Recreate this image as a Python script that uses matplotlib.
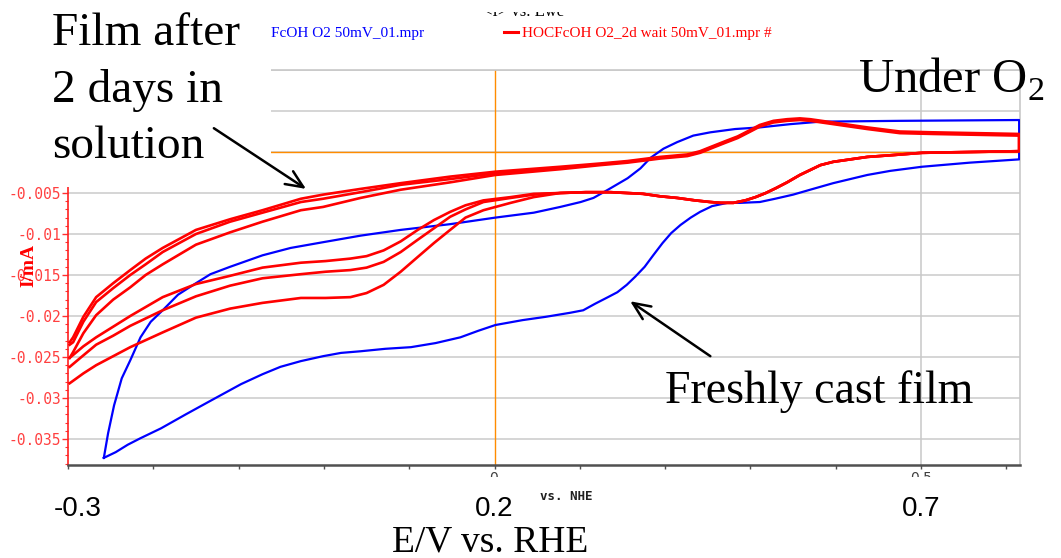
import matplotlib
matplotlib.use("Agg")
import matplotlib.pyplot as plt
from matplotlib.lines import Line2D
from matplotlib.patches import Rectangle, FancyArrowPatch
from matplotlib.ticker import FixedLocator, MultipleLocator, FuncFormatter
from matplotlib.transforms import Bbox, TransformedBbox, ScaledTranslation

plt.rcParams["font.family"] = "Liberation Serif"
plt.rcParams["mathtext.fontset"] = "custom"
plt.rcParams["mathtext.rm"] = "Liberation Serif"
plt.rcParams["axes.unicode_minus"] = False

W, H = 1061, 558

# ---- values read off the CV (E in V vs RHE, I in mA) ----
# freshly cast film (blue): anodic sweep from the left vertex, then back
blue_fwd_E = [-0.258, -0.253, -0.246, -0.237, -0.227, -0.215, -0.203, -0.189, -0.171, -0.150,
              -0.133, -0.110, -0.072, -0.039, -0.001, 0.043, 0.090, 0.148, 0.201, 0.246,
              0.277, 0.301, 0.316, 0.333, 0.356, 0.371, 0.383, 0.398, 0.414, 0.433,
              0.453, 0.482, 0.511, 0.547, 0.582, 0.675, 0.815]
blue_fwd_I = [-0.0373, -0.0343, -0.0309, -0.0276, -0.0254, -0.0226, -0.0207, -0.0193, -0.0174, -0.0160,
              -0.0149, -0.0140, -0.0126, -0.0117, -0.0110, -0.0102, -0.0095, -0.0088, -0.0080, -0.0074,
              -0.0067, -0.0061, -0.0056, -0.0046, -0.0032, -0.0020, -0.0007, 0.0004, 0.0012, 0.0020,
              0.0024, 0.0028, 0.0030, 0.0034, 0.0037, 0.0038, 0.0039]
blue_rev_E = [0.815, 0.757, 0.701, 0.664, 0.637, 0.597, 0.570, 0.550, 0.529, 0.511,
              0.488, 0.473, 0.455, 0.441, 0.430, 0.418, 0.407, 0.397, 0.386, 0.376,
              0.365, 0.355, 0.344, 0.333, 0.318, 0.304, 0.289, 0.260, 0.233, 0.201,
              0.181, 0.160, 0.131, 0.102, 0.072, 0.043, 0.020, -0.001, -0.027, -0.051,
              -0.072, -0.097, -0.134, -0.162, -0.191, -0.215, -0.230, -0.244, -0.258]
blue_rev_I = [-0.0009, -0.0013, -0.0018, -0.0023, -0.0028, -0.0038, -0.0046, -0.0052, -0.0057, -0.0061,
              -0.0062, -0.0062, -0.0066, -0.0073, -0.0080, -0.0089, -0.0099, -0.0111, -0.0126, -0.0140,
              -0.0152, -0.0162, -0.0171, -0.0177, -0.0185, -0.0193, -0.0196, -0.0201, -0.0205, -0.0211,
              -0.0218, -0.0226, -0.0233, -0.0238, -0.0240, -0.0243, -0.0245, -0.0249, -0.0255, -0.0262,
              -0.0271, -0.0283, -0.0304, -0.0320, -0.0337, -0.0349, -0.0357, -0.0366, -0.0373]

# film after 2 days (red): three cycles, anodic sweeps
red_fwd_E = [-0.298, -0.294, -0.282, -0.267, -0.247, -0.227, -0.209, -0.189, -0.150, -0.110,
             -0.072, -0.027, -0.001, 0.043, 0.090, 0.148, 0.201, 0.277, 0.324, 0.356,
             0.394, 0.426, 0.441, 0.453, 0.470, 0.485, 0.500, 0.511, 0.527, 0.543,
             0.558, 0.570, 0.597, 0.637, 0.675, 0.714, 0.815]
red_fwd_I1 = [-0.0232, -0.0226, -0.0201, -0.0177, -0.0160, -0.0144, -0.0130, -0.0117, -0.0095, -0.0082,
              -0.0071, -0.0057, -0.0052, -0.0045, -0.0038, -0.0030, -0.0024, -0.0018, -0.0014, -0.0011,
              -0.0006, -0.0003, 0.0001, 0.0006, 0.0013, 0.0019, 0.0027, 0.0033, 0.0038, 0.0040,
              0.0041, 0.0040, 0.0036, 0.0030, 0.0025, 0.0024, 0.0022]
red_fwd_I2 = [-0.0235, -0.0232, -0.0207, -0.0183, -0.0166, -0.0150, -0.0137, -0.0122, -0.0100, -0.0085,
              -0.0074, -0.0061, -0.0057, -0.0049, -0.0040, -0.0033, -0.0026, -0.0020, -0.0015, -0.0012,
              -0.0007, -0.0004, 0.0000, 0.0005, 0.0012, 0.0018, 0.0026, 0.0032, 0.0037, 0.0039,
              0.0040, 0.0039, 0.0035, 0.0029, 0.0024, 0.0023, 0.0021]
red_fwd_I3 = [-0.0251, -0.0244, -0.0221, -0.0199, -0.0180, -0.0165, -0.0150, -0.0137, -0.0113, -0.0098,
              -0.0085, -0.0071, -0.0067, -0.0056, -0.0046, -0.0037, -0.0028, -0.0021, -0.0016, -0.0013,
              -0.0008, -0.0005, -0.0001, 0.0004, 0.0011, 0.0017, 0.0025, 0.0031, 0.0036, 0.0038,
              0.0039, 0.0038, 0.0034, 0.0028, 0.0023, 0.0022, 0.0020]
# cathodic sweeps: shared right part, then the three split apart
red_rev_tail_E = [0.815, 0.757, 0.701, 0.664, 0.637, 0.617, 0.597, 0.582, 0.570, 0.558,
                  0.543, 0.530, 0.518, 0.506, 0.494, 0.480, 0.465, 0.453, 0.435, 0.414,
                  0.394, 0.374, 0.336, 0.307, 0.277]
red_rev_tail_I = [0.0001, 0.0000, -0.0001, -0.0004, -0.0006, -0.0009, -0.0012, -0.0016, -0.0022, -0.0028,
                  -0.0037, -0.0044, -0.0050, -0.0055, -0.0059, -0.0062, -0.0062, -0.0061, -0.0059, -0.0056,
                  -0.0054, -0.0051, -0.0049, -0.0049, -0.0050]
red_rev_E = [0.246, 0.219, 0.187, 0.166, 0.148, 0.129, 0.110, 0.090, 0.070, 0.050,
             0.031, 0.002, -0.027, -0.072, -0.110, -0.150, -0.189, -0.227, -0.247, -0.267,
             -0.282, -0.298]
red_rev_I1 = [-0.0051, -0.0055, -0.0059, -0.0065, -0.0073, -0.0083, -0.0095, -0.0109, -0.0120, -0.0127,
              -0.0130, -0.0133, -0.0135, -0.0141, -0.0151, -0.0161, -0.0177, -0.0200, -0.0213, -0.0226,
              -0.0237, -0.0251]
red_rev_I2 = [-0.0052, -0.0056, -0.0061, -0.0070, -0.0079, -0.0093, -0.0107, -0.0122, -0.0134, -0.0141,
              -0.0144, -0.0146, -0.0149, -0.0154, -0.0163, -0.0176, -0.0193, -0.0212, -0.0224, -0.0235,
              -0.0248, -0.0262]
red_rev_I3 = [-0.0055, -0.0062, -0.0071, -0.0080, -0.0095, -0.0111, -0.0128, -0.0146, -0.0162, -0.0172,
              -0.0177, -0.0178, -0.0178, -0.0184, -0.0191, -0.0202, -0.0220, -0.0238, -0.0249, -0.0260,
              -0.0270, -0.0282]

# labels above -0.005 sit under the pasted white box in the original
yticks = [-0.035, -0.03, -0.025, -0.02, -0.015, -0.01, -0.005, 0, 0.005, 0.01]
ytick_shown_max = -0.005
xticks = [-0.3, 0.2, 0.7]
xticklabels = ["-0.3", "0.2", "0.7"]
legend_labels = ["FcOH O2 50mV_01.mpr", "HOCFcOH O2_2d wait 50mV_01.mpr #"]


def fx(px):
    return px / W


def fy(py):
    return 1 - py / H


def ylab(v, pos):
    v = round(v, 4)
    return f"{v:g}" if v <= ytick_shown_max else ""


fig = plt.figure(figsize=(W / 100, H / 100), dpi=100)
ax = fig.add_axes([fx(68), fy(465), (1020 - 68) / W, (465 - 70) / H])

blue = "#0000ff"
red = "#ff0000"
ax.plot(blue_fwd_E + blue_rev_E, blue_fwd_I + blue_rev_I, color=blue, lw=1.6,
        solid_joinstyle="round", zorder=3)
for fwd, rev in [(red_fwd_I1, red_rev_I1), (red_fwd_I2, red_rev_I2), (red_fwd_I3, red_rev_I3)]:
    ax.plot(red_fwd_E + red_rev_tail_E + red_rev_E, fwd + red_rev_tail_I + rev,
            color=red, lw=1.9, solid_joinstyle="round", zorder=4)

ax.set_xlim(-0.299, 0.816)
ax.set_ylim(-0.03817, 0.0100)

# grid and the orange zero cursors
ax.set_axisbelow(True)
ax.yaxis.grid(True, color="#d2d2d2", lw=1.3)
ax.axvline(0.7, color="#c8c8c8", lw=1.1, zorder=1)
ax.axvline(0.2, color="#ff8c00", lw=1.0, zorder=2)
ax.axhline(0.0, color="#ff8c00", lw=1.0, zorder=2)

for s in ["top", "right"]:
    ax.spines[s].set_color("#c8c8c8")
    ax.spines[s].set_linewidth(1.2)
ax.spines["left"].set_color("#ff2020")
ax.spines["left"].set_linewidth(1.2)
ax.spines["bottom"].set_color("#505050")
ax.spines["bottom"].set_linewidth(1.8)

ax.yaxis.set_major_locator(FixedLocator(yticks))
ax.yaxis.set_major_formatter(FuncFormatter(ylab))
ax.yaxis.set_minor_locator(MultipleLocator(0.001))
ax.tick_params(axis="y", which="major", colors="#ff3030", labelcolor="#ff4040", length=4,
               width=1, pad=1, labelsize=10.5)
ax.tick_params(axis="y", which="minor", colors="#ff3030", length=2.5, width=0.8)
for lab in ax.get_yticklabels():
    lab.set_family("DejaVu Sans Mono")

ax.set_xticks(xticks, labels=xticklabels)
ax.xaxis.set_minor_locator(MultipleLocator(0.1))
ax.tick_params(axis="x", which="both", colors="#505050", labelcolor="black", length=3,
               width=1, pad=19, labelsize=20)
for lab in ax.get_xticklabels():
    lab.set_family("Liberation Sans")
first = ax.get_xticklabels()[0]
first.set_transform(first.get_transform() + ScaledTranslation(0.1, 0, fig.dpi_scale_trans))

ax.set_xlabel("E/V vs. RHE", fontsize=27, va="baseline")
ax.xaxis.set_label_coords((490 - 68) / (1020 - 68), (465 - 551) / (465 - 70))
ax.set_ylabel("I/mA", color="red", fontsize=14, fontweight="bold")
ax.yaxis.set_label_coords((37 - 68) / (1020 - 68), (465 - 265) / (465 - 70))

# leftover NHE axis labels peeking out under the axis
for px, s in [(494, "0"), (921, "0.5")]:
    t = fig.text(fx(px), fy(471), s, ha="center", va="top", fontsize=10, color="#404040",
                 family="DejaVu Sans")
    t.set_clip_box(TransformedBbox(Bbox.from_extents(0, fy(477), 1, fy(466)), fig.transFigure))
    t.set_clip_on(True)
fig.text(fx(540), fy(497), "vs. NHE", ha="left", va="center", fontsize=9, fontweight="bold",
         family="DejaVu Sans Mono", color="#202020")

# title fragment cut at the top
t = fig.text(fx(483), fy(16), "<I> vs. Ewe", ha="left", va="baseline", fontsize=12, color="black")
t.set_clip_box(TransformedBbox(Bbox.from_extents(0, 0, 1, fy(12)), fig.transFigure))
t.set_clip_on(True)

# legend
handles = [Line2D([], [], color=blue, lw=2.2), Line2D([], [], color=red, lw=2.2)]
fig.legend(handles, legend_labels, loc="center left", bbox_to_anchor=(fx(247), fy(33)),
           ncol=2, frameon=False, borderaxespad=0, handlelength=0.9, handletextpad=0.3,
           columnspacing=5.2, labelcolor=[blue, red], prop={"family": "Liberation Serif", "size": 11})

# white box with the annotation on the top left
fig.add_artist(Rectangle((0, fy(187)), fx(271), 187 / H, transform=fig.transFigure,
                         facecolor="white", edgecolor="none", zorder=10))
for py, s in [(45, "Film after"), (102, "2 days in"), (158, "solution")]:
    fig.text(fx(52), fy(py), s, ha="left", va="baseline", fontsize=34, zorder=11)

fig.text(fx(858), fy(93), r"Under O$_{2}$", ha="left", va="baseline", fontsize=35, zorder=11)
fig.text(fx(665), fy(403), "Freshly cast film", ha="left", va="baseline", fontsize=33, zorder=11)

for tail, head in [((-0.129, 0.0029), (-0.021, -0.0045)), ((0.453, -0.0249), (0.359, -0.0182))]:
    fig.add_artist(FancyArrowPatch(tail, head, transform=ax.transData,
                                   arrowstyle="->,head_length=0.5,head_width=0.22",
                                   mutation_scale=25, lw=1.8, color="black",
                                   shrinkA=0, shrinkB=0, zorder=12))

fig.savefig("out.png", dpi=100)
